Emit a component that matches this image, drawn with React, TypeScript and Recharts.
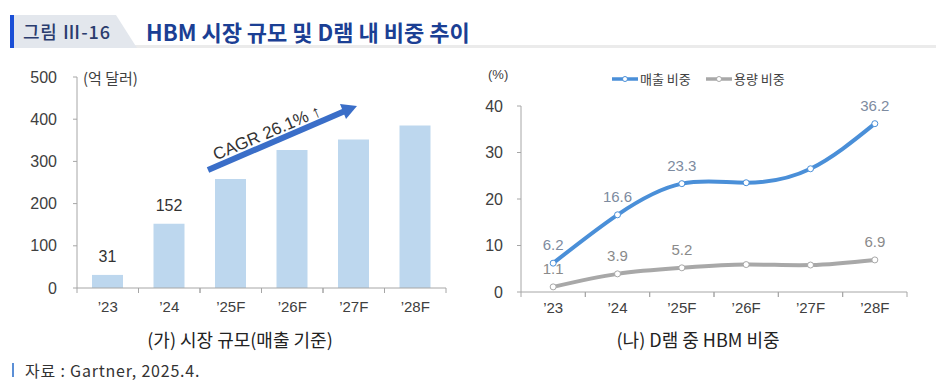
import React from 'react';
import {
  BarChart,
  Bar,
  XAxis,
  YAxis,
  LabelList,
  ComposedChart,
  Line,
  Legend,
} from 'recharts';

// ---------- data ----------
const categories = ['’23', '’24', '’25F', '’26F', '’27F', '’28F'];
const marketSize = [31, 152, 258, 327, 352, 385];
const marketLabels = ['31', '152', '', '', '', ''];
const revenueShare = [6.2, 16.6, 23.3, 23.5, 26.5, 36.2];
const revenueLabels = ['6.2', '16.6', '23.3', '', '', '36.2'];
const capacityShare = [1.1, 3.9, 5.2, 5.9, 5.8, 6.9];
const capacityLabels = ['1.1', '3.9', '5.2', '', '', '6.9'];
const leftTicks = [0, 100, 200, 300, 400, 500];
const rightTicks = [0, 10, 20, 30, 40];
const seriesNames = ['매출 비중', '용량 비중'];

const barData = categories.map((c, i) => ({ cat: c, value: marketSize[i], label: marketLabels[i] }));
const lineData = categories.map((c, i) => ({
  cat: c,
  rev: revenueShare[i],
  cap: capacityShare[i],
  revLabel: revenueLabels[i],
  capLabel: capacityLabels[i],
}));

// ---------- styles ----------
const KR = '"Noto Sans CJK KR", "Noto Sans", sans-serif';
const NUM = '"Liberation Sans", Arial, "Noto Sans CJK KR", sans-serif';
const AXIS = '#a6a6a6';
const TXT = '#404040';
const BAR = '#bdd7ee';
const BLUE = '#4a8fd8';
const GRAY = '#a8a8a8';

const makeXTick = (labelDy: number, n: number) => (props: any) => {
  const { x, y, payload, width } = props;
  const off = typeof payload?.offset === 'number' && payload.offset > 0 ? payload.offset : width / (2 * n);
  return (
    <g>
      <line x1={x - off} y1={y} x2={x - off} y2={y + 5} stroke={AXIS} strokeWidth={1} />
      <line x1={x + off} y1={y} x2={x + off} y2={y + 5} stroke={AXIS} strokeWidth={1} />
      <text x={x} y={y + labelDy} textAnchor="middle" fontSize={15} fill={TXT} fontFamily={NUM}>
        {payload.value}
      </text>
    </g>
  );
};

const barLabel = (p: any) => {
  if (!p.value) return null;
  return (
    <text x={p.x + p.width / 2} y={p.y - 13} textAnchor="middle" fontSize={16} fill="#333" fontFamily={NUM}>
      {p.value}
    </text>
  );
};

const pointLabel = (color: string) => (p: any) => {
  if (!p.value) return null;
  return (
    <text x={p.x} y={p.y - 13} textAnchor="middle" fontSize={15} fill={color} fontFamily={NUM}>
      {p.value}
    </text>
  );
};

const LegendContent = () => (
  <svg width={190} height={20}>
    <line x1={0} y1={10} x2={26} y2={10} stroke={BLUE} strokeWidth={3.5} />
    <circle cx={13} cy={10} r={2.5} fill="#fff" stroke={BLUE} strokeWidth={1} />
    <text x={28} y={15} fontSize={13} fill={TXT} fontFamily={KR}>{seriesNames[0]}</text>
    <line x1={94} y1={10} x2={120} y2={10} stroke={GRAY} strokeWidth={3.5} />
    <circle cx={107} cy={10} r={2.5} fill="#fff" stroke={GRAY} strokeWidth={1} />
    <text x={122} y={15} fontSize={13} fill={TXT} fontFamily={KR}>{seriesNames[1]}</text>
  </svg>
);

export default function App() {
  return (
    <div style={{ position: 'absolute', left: 0, top: 0, width: 936, height: 389, background: '#fff', overflow: 'hidden', fontFamily: KR }}>
      {/* header */}
      <div style={{ position: 'absolute', left: 10, top: 45, width: 926, height: 3, background: '#ebebeb' }} />
      <svg style={{ position: 'absolute', left: 0, top: 0 }} width={160} height={50}>
        <polygon points="14,15 116,15 137,48 14,48" fill="#e3e7ed" />
        <rect x={10} y={15} width={4} height={33} fill="#1a4fd6" />
      </svg>
      <div style={{ position: 'absolute', left: 23, top: 19, fontSize: 18, lineHeight: '24px', color: '#2a3c6e', fontWeight: 500, whiteSpace: 'nowrap', letterSpacing: 0.8 }}>
        그림 Ⅲ-16
      </div>
      <div style={{ position: 'absolute', left: 146, top: 17, fontSize: 22, lineHeight: '28px', color: '#1b3f94', fontWeight: 700, whiteSpace: 'nowrap' }}>
        HBM 시장 규모 및 D램 내 비중 추이
      </div>

      {/* left chart */}
      <div style={{ position: 'absolute', left: 0, top: 0 }}>
        <BarChart width={470} height={389} data={barData} margin={{ top: 77, right: 24, bottom: 71, left: 0 }}>
          <XAxis
            dataKey="cat"
            height={30}
            stroke={AXIS}
            tickLine={false}
            tickSize={0}
            tickMargin={0}
            interval={0}
            tick={makeXTick(24, categories.length)}
          />
          <YAxis
            width={77}
            domain={[0, 500]}
            ticks={leftTicks}
            stroke={AXIS}
            tickSize={4}
            tickMargin={16}
            tick={{ fontSize: 16, fill: TXT, fontFamily: NUM }}
          />
          <Bar dataKey="value" fill={BAR} barSize={31} isAnimationActive={false}>
            <LabelList dataKey="label" content={barLabel} />
          </Bar>
        </BarChart>
      </div>
      <div style={{ position: 'absolute', left: 83, top: 68, fontSize: 15, lineHeight: '20px', color: TXT, whiteSpace: 'nowrap' }}>
        (억 달러)
      </div>
      {/* CAGR annotation */}
      <svg style={{ position: 'absolute', left: 0, top: 0 }} width={470} height={300}>
        <line x1={208} y1={170} x2={345} y2={111} stroke="#3a6ec8" strokeWidth={6} />
        <polygon points="357,106 340,104 346,119" fill="#3a6ec8" />
        <text
          x={267}
          y={133}
          textAnchor="middle"
          dominantBaseline="central"
          fontSize={17}
          fill="#333"
          fontFamily={NUM}
          transform="rotate(-23 267 133)"
        >
          CAGR 26.1% ↑
        </text>
      </svg>

      {/* right chart */}
      <div style={{ position: 'absolute', left: 460, top: 0 }}>
        <ComposedChart width={476} height={389} data={lineData} margin={{ top: 106, right: 29, bottom: 67, left: 0 }}>
          <XAxis
            dataKey="cat"
            scale="band"
            height={30}
            stroke={AXIS}
            tickLine={false}
            tickSize={0}
            tickMargin={0}
            interval={0}
            tick={makeXTick(21, categories.length)}
          />
          <YAxis
            width={61}
            domain={[0, 40]}
            ticks={rightTicks}
            stroke={AXIS}
            tickSize={4}
            tickMargin={14}
            tick={{ fontSize: 16, fill: TXT, fontFamily: NUM }}
          />
          <Legend
            verticalAlign="middle"
            align="center"
            layout="horizontal"
            wrapperStyle={{ top: 69, left: 152, width: 190, height: 20 }}
            content={() => <LegendContent />}
          />
          <Line
            dataKey="cap"
            name={seriesNames[1]}
            type="natural"
            stroke={GRAY}
            strokeWidth={4}
            dot={{ r: 3, fill: '#fff', stroke: GRAY, strokeWidth: 1 }}
            isAnimationActive={false}
          >
            <LabelList dataKey="capLabel" content={pointLabel('#8a8a8a')} />
          </Line>
          <Line
            dataKey="rev"
            name={seriesNames[0]}
            type="natural"
            stroke={BLUE}
            strokeWidth={4}
            dot={{ r: 3, fill: '#fff', stroke: BLUE, strokeWidth: 1 }}
            isAnimationActive={false}
          >
            <LabelList dataKey="revLabel" content={pointLabel('#7d8ba0')} />
          </Line>
        </ComposedChart>
      </div>
      <div style={{ position: 'absolute', left: 488, top: 65, fontSize: 13, lineHeight: '20px', color: TXT, whiteSpace: 'nowrap', fontFamily: NUM }}>
        (%)
      </div>

      {/* subtitles */}
      <div style={{ position: 'absolute', left: 40, top: 327, width: 400, textAlign: 'center', fontSize: 18, lineHeight: '24px', color: '#222', whiteSpace: 'nowrap' }}>
        (가) 시장 규모(매출 기준)
      </div>
      <div style={{ position: 'absolute', left: 498, top: 327, width: 400, textAlign: 'center', fontSize: 18, lineHeight: '24px', color: '#222', whiteSpace: 'nowrap' }}>
        (나) D램 중 HBM 비중
      </div>

      {/* source */}
      <div style={{ position: 'absolute', left: 12, top: 363, width: 2, height: 14, background: '#5b8fd6' }} />
      <div style={{ position: 'absolute', left: 25, top: 359, fontSize: 16, lineHeight: '22px', color: '#333', whiteSpace: 'nowrap', letterSpacing: 0.8 }}>
        자료 : Gartner, 2025.4.
      </div>
    </div>
  );
}
